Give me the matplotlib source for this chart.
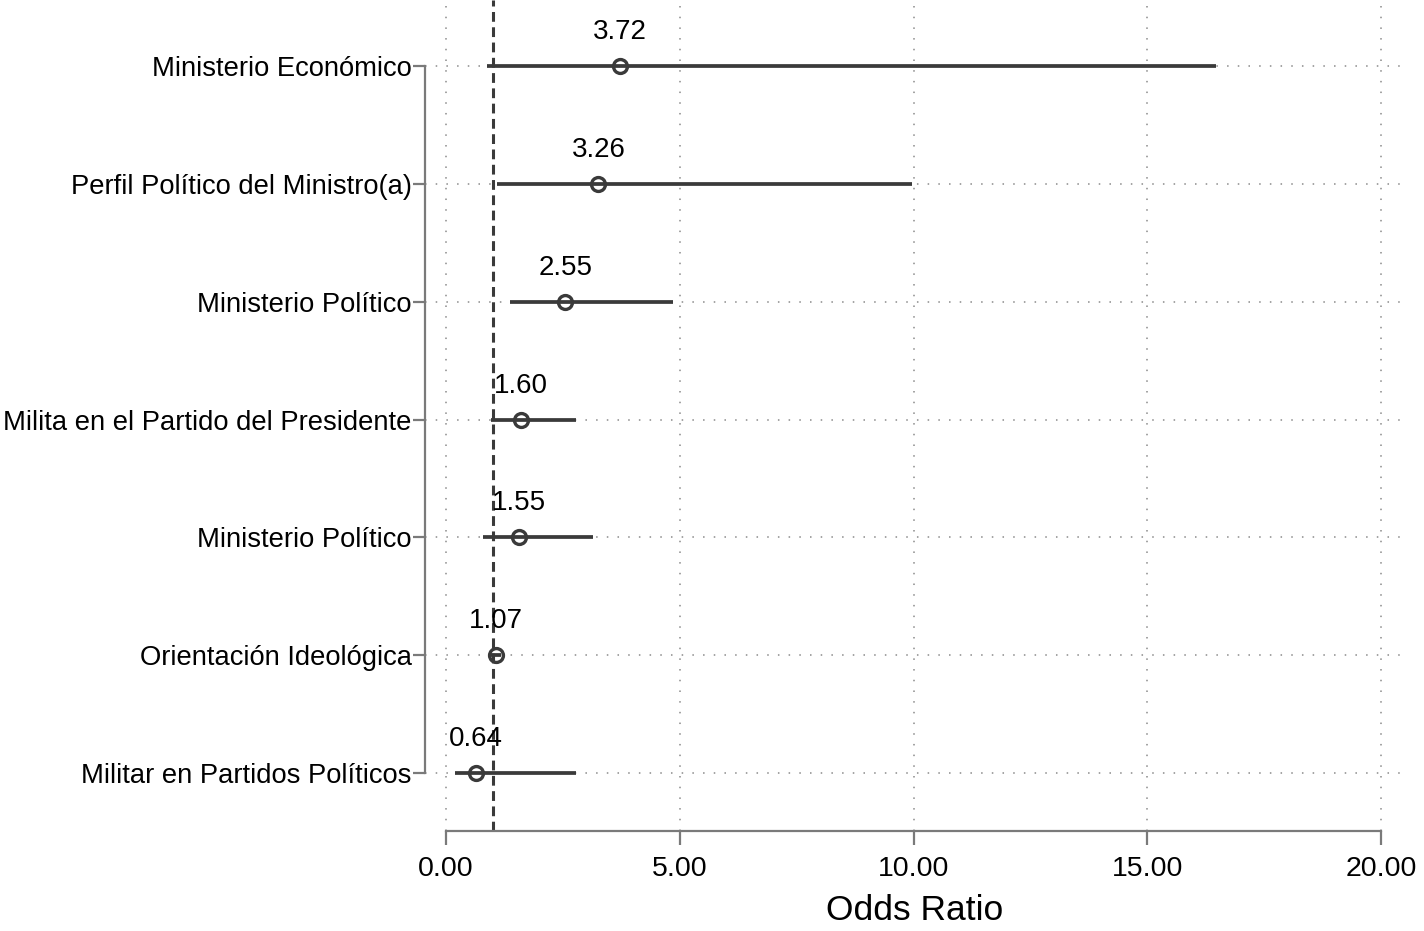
import matplotlib
matplotlib.use("Agg")
import matplotlib.pyplot as plt
import numpy as np

plt.rcParams['font.family'] = ['Liberation Sans', 'DejaVu Sans']

# datos (de arriba hacia abajo)
variables = [
    "Ministerio Económico",
    "Perfil Político del Ministro(a)",
    "Ministerio Político",
    "Milita en el Partido del Presidente",
    "Ministerio Político",
    "Orientación Ideológica",
    "Militar en Partidos Políticos",
]
odds = [3.72, 3.26, 2.55, 1.60, 1.55, 1.07, 0.64]
ci_low = [0.88, 1.09, 1.37, 0.96, 0.79, 0.97, 0.19]
ci_high = [16.47, 9.97, 4.86, 2.78, 3.14, 1.17, 2.78]
x_ticks = [0, 5, 10, 15, 20]

dark = "#3a3a3a"
spine_col = "#7a7a7a"

fig = plt.figure(figsize=(14.24, 9.31), dpi=100)
ax = fig.add_axes([425 / 1424, 100 / 931, 980 / 1424, 831 / 931])

y = np.arange(len(variables))

# grid
for xt in x_ticks:
    ax.axvline(xt, color="#8a8a8a", lw=1.1, ls=(0, (1, 6)), zorder=0)
for yy in y:
    ax.axhline(yy, color="#8a8a8a", lw=1.1, ls=(0, (1, 6)), zorder=0)

ax.axvline(1, color=dark, lw=2.2, ls=(0, (3.2, 1.8)), zorder=2)

ax.hlines(y, ci_low, ci_high, color=dark, lw=2.7, zorder=3)
ax.plot(odds, y, "o", ms=10, mfc="none", mec=dark, mew=2.4, zorder=4)

for xv, yy in zip(odds, y):
    ax.annotate(f"{xv:.2f}", (xv, yy), xytext=(0, 19.5), textcoords="offset points",
                ha="center", va="baseline", fontsize=20, color="black")

ax.set_xlim(-0.45, 20.51)
ax.set_ylim(len(variables) - 1 + 0.49, -0.56)

ax.set_yticks(y)
ax.set_yticklabels(variables, fontsize=19.7)
ax.set_xticks(x_ticks)
ax.set_xticklabels([f"{v:.2f}" for v in x_ticks], fontsize=20.5)
ax.set_xlabel("Odds Ratio", fontsize=25.5, labelpad=9)

for s in ["top", "right"]:
    ax.spines[s].set_visible(False)
for s in ["left", "bottom"]:
    ax.spines[s].set_color(spine_col)
    ax.spines[s].set_linewidth(1.6)
ax.spines["left"].set_bounds(0, len(variables) - 1)
ax.spines["bottom"].set_bounds(0, 20)

ax.tick_params(axis="y", length=9, width=1.6, color=spine_col, pad=0.5)
ax.tick_params(axis="x", length=10, width=1.6, color=spine_col, pad=8)

fig.savefig("out.png", dpi=100)
